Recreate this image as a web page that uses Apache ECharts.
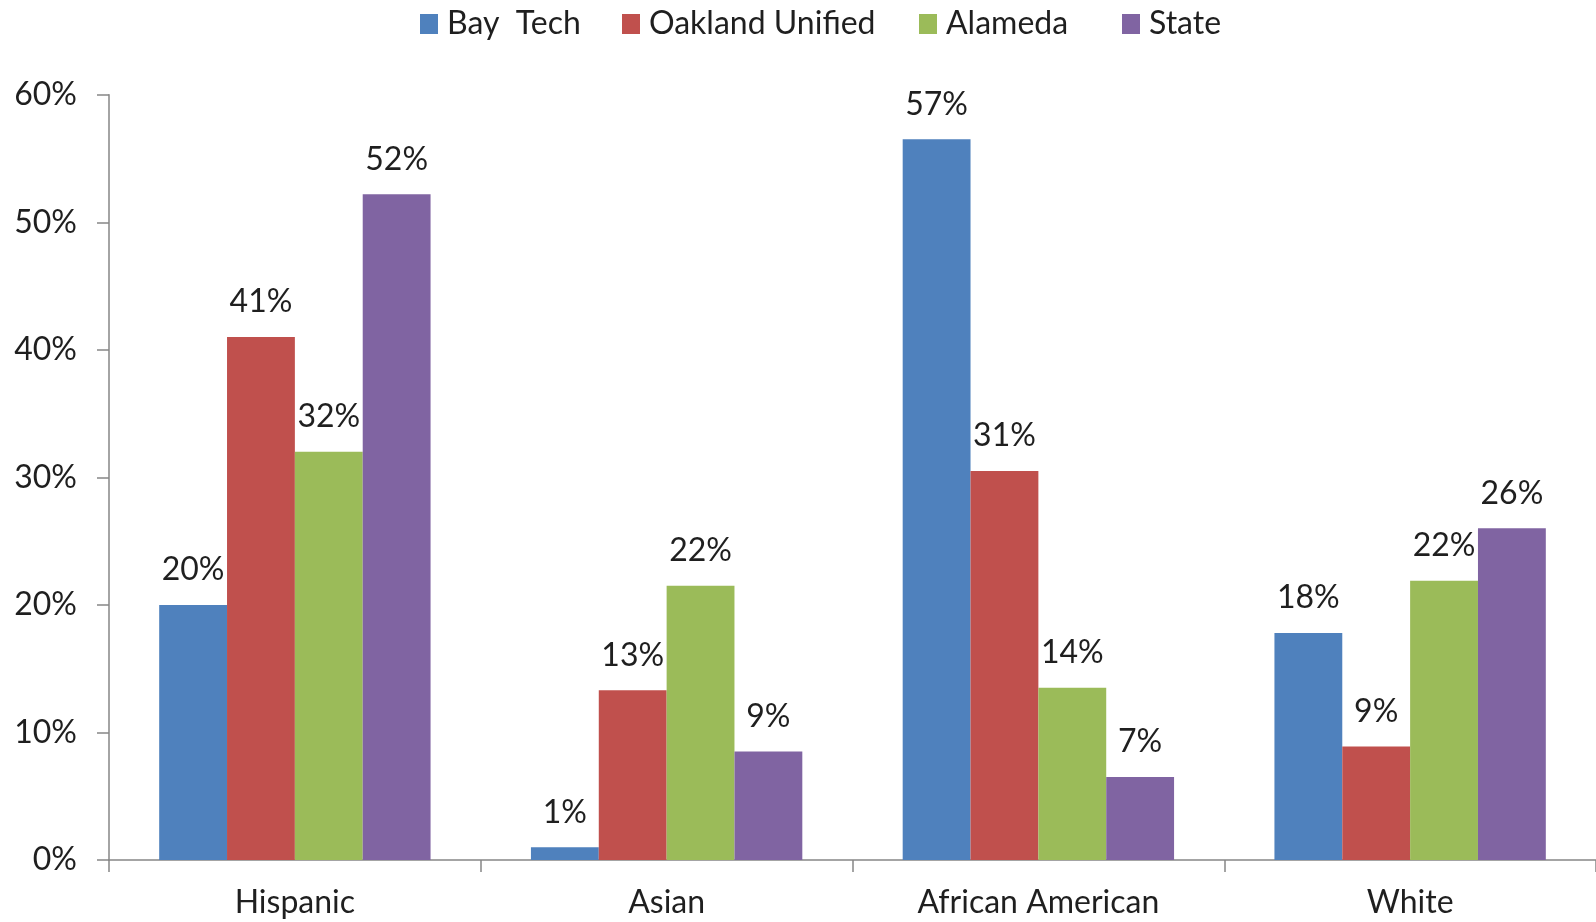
<!DOCTYPE html>
<html>
<head>
<meta charset="utf-8">
<script src="https://cdn.jsdelivr.net/npm/echarts@6/dist/echarts.min.js"></script>
<style>
html,body{margin:0;padding:0;background:#fff;}
#chart{width:1596px;height:922px;}
</style>
</head>
<body>
<div id="chart"></div>
<script>
const categories = ['Hispanic', 'Asian', 'African American', 'White'];
const seriesNames = ['Bay  Tech', 'Oakland Unified', 'Alameda', 'State'];
const bayTech = [20, 1, 56.5, 17.8];
const oakland = [41, 13.3, 30.5, 8.9];
const alameda = [32, 21.5, 13.5, 21.9];
const state = [52.2, 8.5, 6.5, 26];
const yTicks = [0, 10, 20, 30, 40, 50, 60];
const colors = ['#4F81BD', '#C0504D', '#9BBB59', '#8064A2'];
const allValues = [bayTech, oakland, alameda, state];
const legendLefts = [415, 617, 914, 1117];

const FONT = 'Lato';
const TXT = '#1f1f1f';

const chart = echarts.init(document.getElementById('chart'));
chart.setOption({
  animation: false,
  color: colors,
  textStyle: { fontFamily: FONT },
  legend: seriesNames.map((name, i) => ({
    top: 3,
    left: legendLefts[i],
    itemWidth: 18,
    itemHeight: 20,
    icon: 'rect',
    textStyle: { fontFamily: FONT, fontSize: 32, color: TXT, padding: [0, 0, 0, 4] },
    data: [name]
  })),
  grid: { left: 109, right: -4, top: 94.7, bottom: 62, containLabel: false },
  xAxis: {
    type: 'category',
    data: categories,
    axisLine: { lineStyle: { color: '#868686', width: 1.5 } },
    axisTick: { show: true, length: 12, alignWithLabel: false, lineStyle: { color: '#868686', width: 1.5 } },
    axisLabel: { fontFamily: FONT, fontSize: 32, color: TXT, margin: 27 }
  },
  yAxis: {
    type: 'value',
    min: yTicks[0],
    max: yTicks[yTicks.length - 1],
    interval: 10,
    splitLine: { show: false },
    axisLine: { show: true, lineStyle: { color: '#868686', width: 1.5 } },
    axisTick: { show: true, length: 12, lineStyle: { color: '#868686', width: 1.5 } },
    axisLabel: { fontFamily: FONT, fontSize: 32, color: TXT, margin: 32, formatter: v => v + '%' }
  },
  series: seriesNames.map((name, i) => ({
    name: name,
    type: 'bar',
    data: allValues[i],
    barGap: '0%',
    barCategoryGap: '27%',
    itemStyle: { color: colors[i] },
    label: {
      show: true,
      position: 'top',
      distance: 19,
      fontFamily: FONT,
      fontSize: 32,
      color: TXT,
      formatter: p => Math.round(p.value) + '%'
    }
  }))
});
</script>
</body>
</html>
